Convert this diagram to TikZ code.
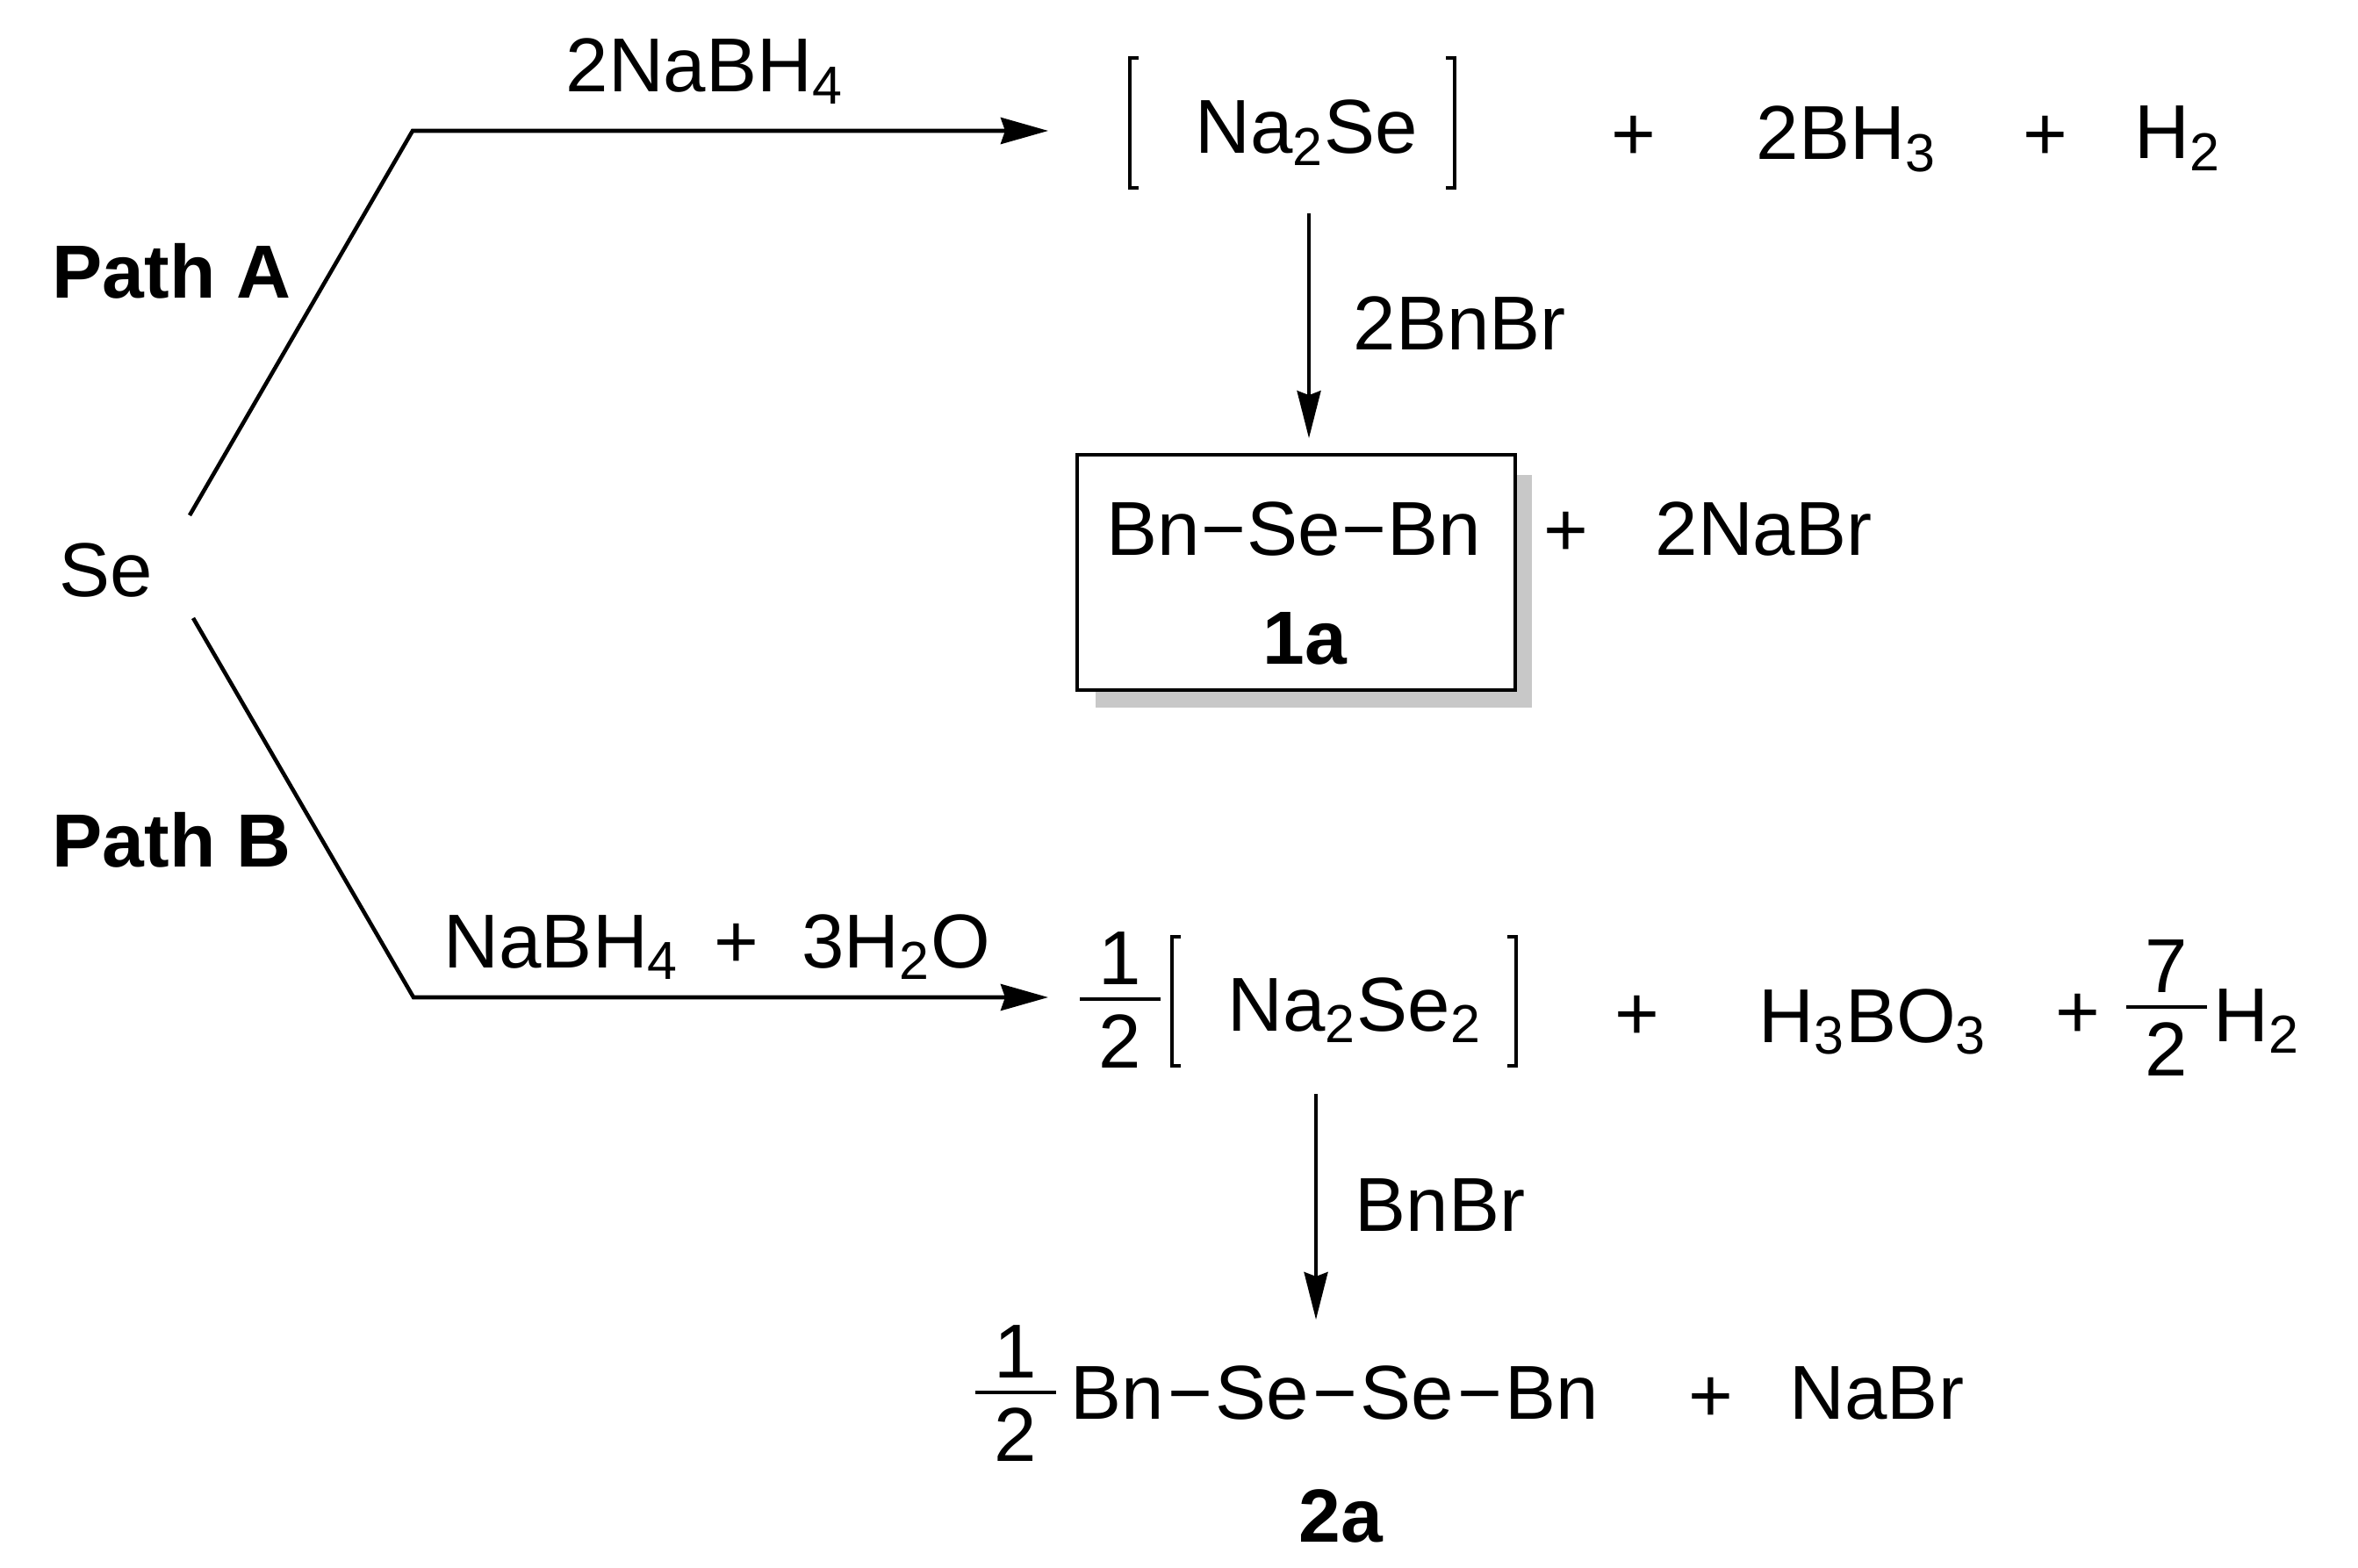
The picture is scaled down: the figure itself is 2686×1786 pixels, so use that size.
\documentclass[tikz,border=0pt]{standalone}
\usepackage{fontspec}
\setmainfont{Liberation Sans}
\usetikzlibrary{arrows.meta,calc}
\definecolor{boxshadow}{HTML}{C8C8C8}
\newcommand{\chemsub}[1]{\textsubscript{#1}}
\newcommand{\bond}[1]{\hspace{#1}−\hspace{#1}}
\tikzset{
  txt/.style={anchor=base west, inner sep=0pt, font=\fontsize{24.75}{30}\selectfont},
  lab/.style={txt, font=\fontsize{24.4}{30}\selectfont\bfseries},
  plus/.style={anchor=center, inner sep=0pt, font=\fontsize{24.75}{30}\selectfont},
  digit/.style={anchor=base, inner sep=0pt, font=\fontsize{24.75}{30}\selectfont},
  rxn/.style={line width=1.3pt, -{Stealth[length=0.54cm, width=0.30cm, inset=0.05cm]}},
  down/.style={line width=1pt, -{Stealth[length=0.54cm, width=0.27cm, inset=0.05cm]}},
  brk/.style={line width=0.9pt, draw=black},
  bar/.style={line width=1.3pt, draw=black}
}

\begin{document}
\begin{tikzpicture}[x=0.01cm, y=-0.01cm]
  \useasboundingbox (0,0) rectangle (2686,1786);

  % start and the two paths
  \node[txt] (se) at (67,680) {Se};
  \node[lab] (pathA) at (59,340) {Path A};
  \node[lab] (pathB) at (59,988) {Path B};
  \coordinate (seA) at (216,587);
  \coordinate (seB) at (220,704);
  \coordinate (cornerA) at (470,149);
  \coordinate (cornerB) at (471,1136);
  \coordinate (tipA) at (1194,149);
  \coordinate (tipB) at (1194,1136);
  \draw[rxn] (seA) -- (cornerA) -- (tipA);
  \draw[rxn] (seB) -- (cornerB) -- (tipB);
  \node[txt] (reagA) at (644,105) {2NaBH\chemsub{4}};
  \node[txt] (reagB) at (505,1102) {NaBH\chemsub{4}\hspace{11.5pt}+\ \ 3H\chemsub{2}O};

  % path A
  \draw[brk] (1297,66) -- (1287,66) -- (1287,214) -- (1297,214);
  \draw[brk] (1647,66) -- (1657,66) -- (1657,214) -- (1647,214);
  \node[txt] (naSe) at (1361,175) {Na\chemsub{2}Se};
  \node[plus] (plusA) at (1861,157) {+};
  \node[txt] (bh) at (2000,182) {2BH\chemsub{3}};
  \node[plus] (plusB) at (2330,157) {+};
  \node[txt] (hA) at (2431,181) {H\chemsub{2}};

  \fill[boxshadow] (1248,541) rectangle (1745,806);
  \node[draw, fill=white, line width=1pt, minimum width=4.99cm, minimum height=2.68cm, inner sep=0pt] (boxA) at (1476.5,652) {};
  \node[txt] (seBn) at (1260,633) {Bn\bond{0.4pt}Se\bond{0.4pt}Bn};
  \node[lab] (oneA) at (1438,757) {1a};
  \node[plus] (plusC) at (1784,608) {+};
  \node[txt] (naBrA) at (1885,633) {2NaBr};
  \coordinate (downA) at (1491,243);
  \draw[down, shorten >=0.17cm] (downA) -- (downA |- boxA.north);
  \node[txt] (reagC) at (1541,399) {2BnBr};

  % path B
  \draw[brk] (1345,1067) -- (1335,1067) -- (1335,1214) -- (1345,1214);
  \draw[brk] (1717,1067) -- (1727,1067) -- (1727,1214) -- (1717,1214);
  \node[txt] (naSeSe) at (1398,1174) {Na\chemsub{2}Se\chemsub{2}};
  \node[plus] (plusD) at (1865,1159) {+};
  \node[txt] (boric) at (2003,1187) {H\chemsub{3}BO\chemsub{3}};
  \node[plus] (plusE) at (2367,1157) {+};
  \node[txt] (hB) at (2521,1186) {H\chemsub{2}};
  \coordinate (downB) at (1499,1246);
  \coordinate (endB) at (1499,1503);
  \draw[down] (downB) -- (endB);
  \node[txt] (reagD) at (1543,1402) {BnBr};

  \node[txt] (seSeBn) at (1219,1616) {Bn\bond{1.1pt}Se\bond{1.1pt}Se\bond{1.1pt}Bn};
  \node[plus] (plusF) at (1949,1594) {+};
  \node[txt] (naBrB) at (2038,1616) {NaBr};
  \node[lab] (twoA) at (1479,1756) {2a};

  % fractions
  \foreach \name/\x/\y/\num in {fracA/1276/1138/1, fracB/2468/1147/7, fracC/1157/1586/1} {
    \node[digit] (\name top) at (\x,\y-17) {\num};
    \node[digit] (\name bot) at (\x,\y+78) {2};
    \draw[bar] (\x-46,\y) -- (\x+46,\y);
  }
\end{tikzpicture}
\end{document}
